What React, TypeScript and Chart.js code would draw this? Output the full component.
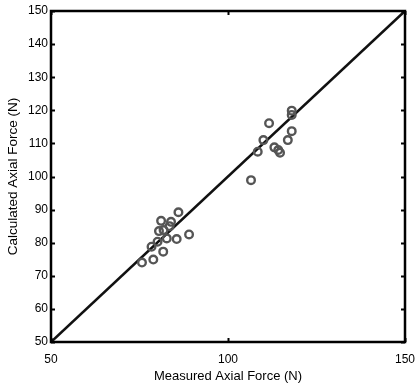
import React, { useEffect, useRef } from "react";
import { Chart, registerables } from "chart.js";

Chart.register(...registerables);

const measured = [
  75.7, 78.9, 78.4, 80.1, 81.7, 82.7, 85.5, 80.5, 81.1, 83.9, 86.0, 89.0, 81.8, 83.5,
  106.5, 108.4, 110.0, 111.6, 113.1, 114.2, 114.7, 116.9, 118.0, 118.0, 118.0,
];
const calculated = [
  74.0, 74.9, 78.8, 80.3, 77.3, 81.3, 81.1, 83.5, 86.6, 86.3, 89.2, 82.5, 83.8, 85.0,
  98.9, 107.5, 111.0, 116.1, 108.8, 108.0, 107.2, 111.0, 113.7, 118.6, 119.9,
];
const lineX = [50, 150];
const lineY = [50, 150];
const xTicks = [50, 100, 150];
const yTicks = [50, 60, 70, 80, 90, 100, 110, 120, 130, 140, 150];

const framePlugin = {
  id: "frame",
  afterDatasetsDraw(chart: any) {
    const { ctx, chartArea: a, scales } = chart;
    ctx.save();
    ctx.strokeStyle = "#000";
    ctx.lineWidth = 2;
    const tl = 4;
    ctx.beginPath();
    for (const v of yTicks) {
      const y = Math.round(scales.y.getPixelForValue(v)) + 0.5;
      ctx.moveTo(a.left, y);
      ctx.lineTo(a.left + tl, y);
      ctx.moveTo(a.right, y);
      ctx.lineTo(a.right - tl, y);
    }
    for (const v of xTicks) {
      const x = Math.round(scales.x.getPixelForValue(v)) + 0.5;
      ctx.moveTo(x, a.bottom);
      ctx.lineTo(x, a.bottom - tl);
      ctx.moveTo(x, a.top);
      ctx.lineTo(x, a.top + tl);
    }
    ctx.stroke();
    ctx.lineWidth = 2.5;
    ctx.strokeRect(a.left, a.top, a.right - a.left, a.bottom - a.top);
    ctx.restore();
  },
};

export default function App() {
  const ref = useRef<HTMLCanvasElement>(null);
  useEffect(() => {
    const family = "'Liberation Sans', Arial, Helvetica, sans-serif";
    const font = { family, size: 12 };
    const chart = new Chart(ref.current!, {
      type: "scatter",
      data: {
        datasets: [
          {
            label: "points",
            data: measured.map((x, i) => ({ x, y: calculated[i] })),
            pointRadius: 3.8,
            pointBorderWidth: 2.4,
            borderColor: "#555",
            backgroundColor: "rgba(255,255,255,0)",
            showLine: false,
          },
          {
            label: "line",
            data: lineX.map((x, i) => ({ x, y: lineY[i] })),
            showLine: true,
            borderColor: "#111",
            borderWidth: 2.6,
            pointRadius: 0,
          },
        ],
      },
      options: {
        animation: false,
        responsive: false,
        layout: { padding: { left: 0, right: 12, top: 11, bottom: 0 } },
        plugins: { legend: { display: false }, tooltip: { enabled: false } },
        scales: {
          x: {
            type: "linear",
            min: 50,
            max: 150,
            afterFit: (s: any) => {
              s.height = 45;
              s.paddingLeft = 0;
              s.paddingRight = 0;
            },
            afterBuildTicks: (s: any) => { s.ticks = xTicks.map((v) => ({ value: v })); },
            grid: { display: false, drawTicks: false },
            border: { display: false },
            ticks: { color: "#000", font, padding: 10, maxRotation: 0 },
            title: {
              display: true,
              text: "Measured Axial Force (N)",
              color: "#000",
              font: { family, size: 13 },
              padding: { top: 0, bottom: 3 },
            },
          },
          y: {
            type: "linear",
            min: 50,
            max: 150,
            afterFit: (s: any) => {
              s.width = 51;
              s.paddingTop = 0;
              s.paddingBottom = 0;
            },
            afterBuildTicks: (s: any) => { s.ticks = yTicks.map((v) => ({ value: v })); },
            grid: { display: false, drawTicks: false },
            border: { display: false },
            ticks: { color: "#000", font, padding: 3 },
            title: {
              display: true,
              text: "Calculated Axial Force (N)",
              color: "#000",
              font: { family, size: 13.5 },
              padding: { top: 5, bottom: 0 },
            },
          },
        },
      },
      plugins: [framePlugin],
    });
    return () => chart.destroy();
  }, []);
  return (
    <div style={{ position: "absolute", left: 0, top: 0, width: 417, height: 387, background: "#fff" }}>
      <canvas ref={ref} width={417} height={387} />
    </div>
  );
}
